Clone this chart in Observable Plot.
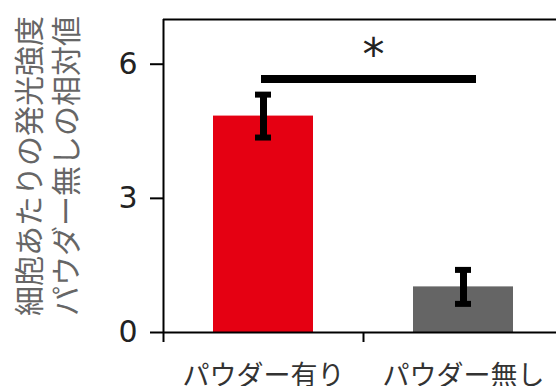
<!DOCTYPE html>
<html>
<head>
<meta charset="utf-8">
<script src="https://cdn.jsdelivr.net/npm/d3@7"></script>
<script src="https://cdn.jsdelivr.net/npm/@observablehq/plot@0.6"></script>
<style>
  html, body { margin: 0; padding: 0; background: #fff; overflow: hidden; }
</style>
</head>
<body>
<div id="chart"></div>
<script>
// Data
const categories = ["パウダー有り", "パウダー無し"];
const values = [4.84, 1.02];
const errors = [0.48, 0.38];
const colors = ["#e50012", "#656565"];
const yTicks = [0, 3, 6];
const yLabel = ["細胞あたりの発光強度", "パウダー無しの相対値"];
// significance bracket (data units: x from category index, y in value units)
const sigBar = [{x1: 0.49, x2: 1.565, y: 5.67}];
const sigMark = [{x: 1.05, y: 6.3, label: "*"}];

const rows = categories.map((c, i) => ({
  cat: c, i, value: values[i], err: errors[i], color: colors[i]
}));
const caps = rows.flatMap(d => [
  {i: d.i, y: d.value + d.err},
  {i: d.i, y: d.value - d.err}
]);

const cjk = "'Noto Sans CJK JP', 'Noto Sans', sans-serif";

const chart = Plot.plot({
  width: 556,
  height: 386,
  marginLeft: 163,
  marginRight: 0,
  marginTop: 19,
  marginBottom: 54,
  style: {fontFamily: cjk, background: "#fff", overflow: "hidden"},
  x: {type: "linear", domain: [0, 2], range: [163, 563]},
  y: {domain: [0, 7]},
  marks: [
    Plot.rectY(rows, {x1: d => d.i + 0.25, x2: d => d.i + 0.75, y1: 0, y2: "value", fill: "color"}),
    Plot.ruleX(rows, {x: d => d.i + 0.5, y1: d => d.value - d.err, y2: d => d.value + d.err, stroke: "#000", strokeWidth: 7}),
    Plot.ruleY(caps, {y: "y", x1: d => d.i + 0.46, x2: d => d.i + 0.54, stroke: "#000", strokeWidth: 6}),
    Plot.ruleY(sigBar, {y: "y", x1: "x1", x2: "x2", stroke: "#000", strokeWidth: 8}),
    Plot.text(sigMark, {x: "x", y: "y", text: "label", fontSize: 44, fontFamily: "DejaVu Sans", fill: "#222", lineAnchor: "middle", dy: 5}),
    // frame lines
    Plot.ruleY([7], {stroke: "#000", strokeWidth: 2}),
    Plot.ruleY([0], {stroke: "#000", strokeWidth: 2}),
    Plot.ruleX([0], {stroke: "#000", strokeWidth: 2}),
    Plot.axisX({ticks: [0, 1, 2], tickSize: 10, tickFormat: () => "", strokeWidth: 2, stroke: "#000"}),
    Plot.axisY({ticks: yTicks, tickFormat: d => String(d), tickSize: 13, tickPadding: 13, fontSize: 30, fontFamily: "DejaVu Sans", fill: "#222", stroke: "#000", strokeWidth: 2}),
    Plot.text(categories, {x: (d, i) => i + 0.5, y: 0, text: d => d, lineAnchor: "top", dy: 33, fontSize: 27, fill: "#333"}),
    Plot.text([yLabel.join("\n")], {frameAnchor: "left", rotate: -90, text: d => d, textAnchor: "middle", lineAnchor: "middle", lineHeight: 1.23, fontSize: 30, fill: "#666", dx: -117, dy: -10})
  ]
});
document.getElementById("chart").appendChild(chart);
</script>
</body>
</html>
